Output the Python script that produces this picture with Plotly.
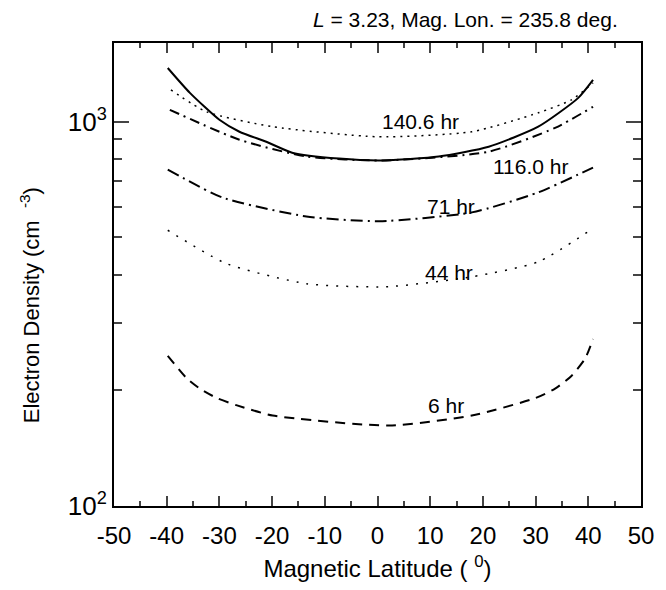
import math
import plotly.graph_objects as go

# ---------------- data ----------------
lat_solid = [-39.8, -35.6, -30.0, -26.2, -21.1, -16.2, -7.3, 0.9, 11.6, 21.1, 30.5, 38.1, 40.9]
ne_solid = [1380, 1189, 1012, 942, 887, 831, 802, 793, 812, 861, 971, 1154, 1285]

lat_1406 = [-39.2, -32.4, -19.9, 0.0, 17.9, 30.5, 36.8, 40.9]
ne_1406 = [1210, 1061, 971, 914, 942, 1055, 1140, 1262]

lat_1160 = [-39.4, -26.2, -13.5, 0.9, 21.1, 33.7, 40.9]
ne_1160 = [1074, 898, 812, 793, 836, 964, 1094]

lat_71 = [-39.8, -29.4, -13.5, 0.3, 17.9, 30.5, 40.9]
ne_71 = [751, 635, 567, 551, 581, 655, 760]

lat_44 = [-39.8, -28.6, -13.5, 1.6, 17.9, 30.5, 40.9]
ne_44 = [522, 427, 379, 372, 395, 432, 528]

lat_6 = [-39.8, -36.2, -33.7, -30.5, -26.8, -19.9, 2.2, 17.9, 30.0, 33.7, 36.8, 39.4, 40.9]
ne_6 = [246, 215, 202, 191, 183, 172, 162, 172, 191, 202, 218, 242, 272]

label_text = ["140.6 hr", "116.0 hr", "71 hr", "44 hr", "6 hr"]
label_x = [8.2, 29.2, 13.9, 13.5, 13.0]
label_y = [1000, 764, 603, 406, 183]

x_ticks = [-50, -40, -30, -20, -10, 0, 10, 20, 30, 40, 50]
x_ticktext = ["-50", "-40", "-30", "-20", "-10", "0", "10", "20", "30", "40", "50"]
y_ticks = [100, 1000]
y_ticktext = ["10<sup>2</sup>", "10<sup>3</sup>"]
y_minor = [200, 300, 400, 500, 600, 700, 800, 900, 2000]

FONT = "Liberation Sans, Arial, Helvetica, sans-serif"

fig = go.Figure()
series = [
    (lat_6, ne_6, dict(color="black", width=2, dash="10px,7px")),
    (lat_44, ne_44, dict(color="black", width=1.5, dash="2px,8px")),
    (lat_71, ne_71, dict(color="black", width=2, dash="12px,5px,2px,5px")),
    (lat_1160, ne_1160, dict(color="black", width=2, dash="10px,5px,2px,5px")),
    (lat_1406, ne_1406, dict(color="black", width=1.5, dash="2px,5px")),
    (lat_solid, ne_solid, dict(color="black", width=2)),
]
for xs, ys, ln in series:
    fig.add_trace(go.Scatter(x=xs, y=ys, mode="lines", line=dict(shape="spline", smoothing=0.6, **ln),
                             showlegend=False, hoverinfo="skip"))

for t, xx, yy in zip(label_text, label_x, label_y):
    fig.add_annotation(x=xx, y=math.log10(yy), text=t, showarrow=False,
                       font=dict(family=FONT, size=21, color="black"), xref="x", yref="y")

fig.add_annotation(x=0.96, y=1.0, xref="paper", yref="paper", xanchor="right", yanchor="bottom",
                   yshift=10, showarrow=False,
                   text="<i>L</i> = 3.23, Mag. Lon. = 235.8 deg.",
                   font=dict(family=FONT, size=21, color="black"))

# y-axis title placed as a rotated annotation (reference centres it below the plot middle)
fig.add_annotation(x=-0.159, y=0.434, xref="paper", yref="paper", xanchor="center", yanchor="middle",
                   textangle=-90, showarrow=False,
                   text="Electron Density (cm  <sup>-3</sup>)",
                   font=dict(family=FONT, size=22, color="black"))

fig.update_xaxes(range=[-50, 50], tickvals=x_ticks, ticktext=x_ticktext, ticks="inside", ticklen=10, tickwidth=1.5,
                 showline=True, linewidth=2, linecolor="black", mirror="allticks",
                 showgrid=False, zeroline=False, ticklabelstandoff=7,
                 minor=dict(dtick=5, tick0=0, ticks="inside", ticklen=5, tickwidth=1.5, showgrid=False),
                 tickfont=dict(family=FONT, size=24, color="black"),
                 title=dict(text="Magnetic Latitude ( <sup>0</sup>)", font=dict(family=FONT, size=24, color="black"),
                            standoff=12))
fig.update_yaxes(type="log", range=[2, 3.205], tickvals=y_ticks, ticktext=y_ticktext,
                 ticks="inside", ticklen=15, tickwidth=1.5,
                 showline=True, linewidth=2, linecolor="black", mirror="allticks",
                 showgrid=False, zeroline=False,
                 minor=dict(tickvals=y_minor, ticks="inside", ticklen=8, tickwidth=1.5, showgrid=False),
                 tickfont=dict(family=FONT, size=26, color="black"))

fig.update_layout(width=666, height=590, plot_bgcolor="white", paper_bgcolor="white",
                  margin=dict(l=114, r=23, t=43, b=82), showlegend=False)

fig.write_html("out.html")
